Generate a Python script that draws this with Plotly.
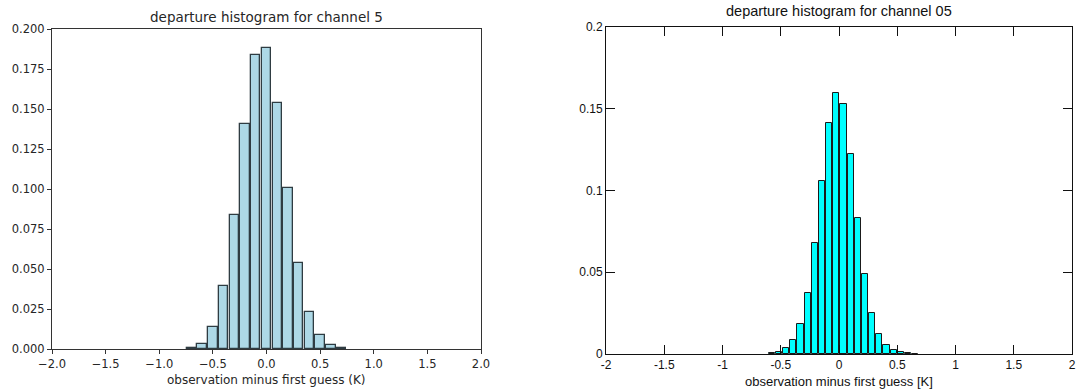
import plotly.graph_objects as go

W, H = 1077, 389

# ---- left panel: histogram with 0.1 K bins ----
left_centers = [-0.7, -0.6, -0.5, -0.4, -0.3, -0.2, -0.1, 0.0,
                0.1, 0.2, 0.3, 0.4, 0.5, 0.6, 0.7]
left_freq = [0.0008, 0.0033, 0.0140, 0.0395, 0.0838, 0.1406, 0.1837, 0.1883,
             0.1540, 0.1005, 0.0535, 0.0233, 0.0087, 0.0027, 0.0005]
left_xticks = [-2.0, -1.5, -1.0, -0.5, 0.0, 0.5, 1.0, 1.5, 2.0]
left_xticklabels = ["\u22122.0", "\u22121.5", "\u22121.0", "\u22120.5", "0.0", "0.5", "1.0", "1.5", "2.0"]
left_yticks = [0.0, 0.025, 0.05, 0.075, 0.1, 0.125, 0.15, 0.175, 0.2]
left_yticklabels = ["0.000", "0.025", "0.050", "0.075", "0.100", "0.125", "0.150", "0.175", "0.200"]
left_title = "departure histogram for channel 5"
left_xlabel = "observation minus first guess (K)"

# ---- right panel: histogram with finer bins ----
right_centers = [-0.576, -0.515, -0.453, -0.392, -0.330, -0.269, -0.207, -0.146, -0.084,
                 -0.023, 0.039, 0.100, 0.162, 0.223, 0.285, 0.346, 0.408, 0.469,
                 0.531, 0.592, 0.654]
right_freq = [0.0004, 0.0014, 0.0035, 0.0084, 0.0181, 0.0375, 0.0677, 0.1058, 0.1411,
              0.1598, 0.1527, 0.1223, 0.0834, 0.0491, 0.0253, 0.0120, 0.0055, 0.0025,
              0.0012, 0.0006, 0.0003]
right_xticks = [-2, -1.5, -1, -0.5, 0, 0.5, 1, 1.5, 2]
right_xticklabels = ["-2", "-1.5", "-1", "-0.5", "0", "0.5", "1", "1.5", "2"]
right_yticks = [0, 0.05, 0.1, 0.15, 0.2]
right_yticklabels = ["0", "0.05", "0.1", "0.15", "0.2"]
right_title = "departure histogram for channel 05"
right_xlabel = "observation minus first guess [K]"

LEFT_BIN, RIGHT_BIN = 0.1, 0.0615

fig = go.Figure()
fig.add_trace(go.Bar(
    x=left_centers, y=left_freq, width=LEFT_BIN * 0.87,
    marker=dict(color="#add8e6", line=dict(color="#2f3c42", width=1.3)),
    xaxis="x", yaxis="y", showlegend=False,
))
fig.add_trace(go.Bar(
    x=right_centers, y=right_freq, width=RIGHT_BIN * 0.86,
    marker=dict(color="#00ffff", line=dict(color="#1a1a1a", width=1)),
    xaxis="x2", yaxis="y2", showlegend=False,
))

mpl_font = dict(family="DejaVu Sans", size=11.5, color="#262626")
idl_font = dict(family="Liberation Sans, Arial", size=12, color="#111111")

# panel edges in pixels
L_x0, L_x1, L_ytop, L_ybot = 52, 481, 29, 349
R_x0, R_x1, R_ytop, R_ybot = 606, 1072, 27, 354

common = dict(showgrid=False, zeroline=False, automargin=False)

fig.update_layout(
    width=W, height=H,
    margin=dict(l=0, r=0, t=0, b=0, autoexpand=False),
    paper_bgcolor="white", plot_bgcolor="white",
    bargap=0,
    xaxis=dict(
        domain=[L_x0 / W, L_x1 / W], range=[-2, 2], anchor="y",
        tickvals=left_xticks, ticktext=left_xticklabels, tickfont=mpl_font,
        ticks="outside", ticklen=4, tickcolor="#333333", tickwidth=1,
        showline=True, linecolor="#333333", linewidth=1, mirror=True, **common,
    ),
    yaxis=dict(
        domain=[1 - L_ybot / H, 1 - L_ytop / H], range=[0, 0.2], anchor="x",
        tickvals=left_yticks, ticktext=left_yticklabels, tickfont=mpl_font,
        ticks="outside", ticklen=4, tickcolor="#333333", tickwidth=1,
        showline=True, linecolor="#333333", linewidth=1, mirror=True, **common,
    ),
    xaxis2=dict(
        domain=[R_x0 / W, R_x1 / W], range=[-2, 2], anchor="y2",
        tickvals=right_xticks, ticktext=right_xticklabels, tickfont=idl_font,
        ticks="inside", ticklen=9, tickcolor="#111111", tickwidth=1,
        showline=True, linecolor="#111111", linewidth=1, mirror="ticks", **common,
    ),
    yaxis2=dict(
        domain=[1 - R_ybot / H, 1 - R_ytop / H], range=[0, 0.2], anchor="x2",
        tickvals=right_yticks, ticktext=right_yticklabels, tickfont=idl_font,
        ticks="inside", ticklen=9, tickcolor="#111111", tickwidth=1,
        showline=True, linecolor="#111111", linewidth=1, mirror="ticks", **common,
    ),
    annotations=[
        dict(text=left_title, x=(L_x0 + L_x1) / 2 / W, y=1 - 17 / H, xref="paper", yref="paper",
             showarrow=False, xanchor="center", yanchor="middle",
             font=dict(family="DejaVu Sans", size=13.5, color="#262626")),
        dict(text=left_xlabel, x=(L_x0 + L_x1) / 2 / W, y=1 - 380 / H, xref="paper", yref="paper",
             showarrow=False, xanchor="center", yanchor="middle",
             font=dict(family="DejaVu Sans", size=12, color="#262626")),
        dict(text=right_title, x=(R_x0 + R_x1) / 2 / W, y=1 - 11 / H, xref="paper", yref="paper",
             showarrow=False, xanchor="center", yanchor="middle",
             font=dict(family="Liberation Sans, Arial", size=14.5, color="#111111")),
        dict(text=right_xlabel, x=(R_x0 + R_x1) / 2 / W, y=1 - 381 / H, xref="paper", yref="paper",
             showarrow=False, xanchor="center", yanchor="middle",
             font=dict(family="Liberation Sans, Arial", size=13, color="#111111")),
    ],
)

fig.write_html("out.html")
